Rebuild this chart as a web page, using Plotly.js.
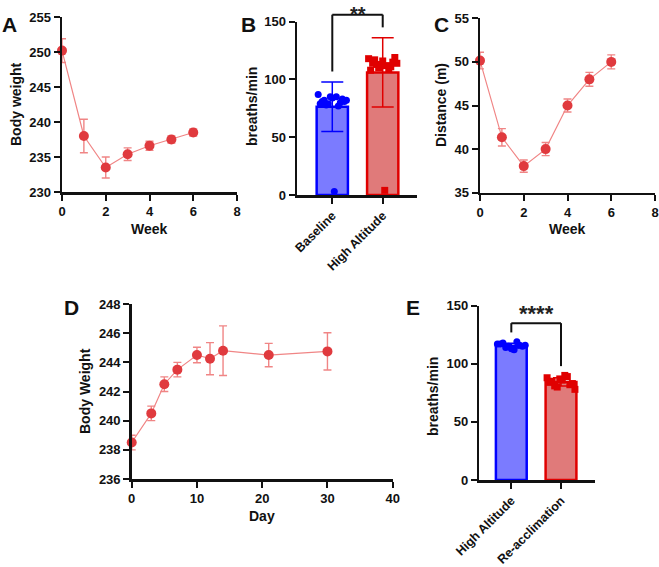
<!DOCTYPE html>
<html>
<head>
<meta charset="utf-8">
<script src="https://cdn.plot.ly/plotly-3.0.1.min.js"></script>
<style>
  html, body { margin: 0; padding: 0; background: #ffffff; }
  #chart { width: 659px; height: 567px; }
</style>
</head>
<body>
<div id="chart"></div>
<script>
// ---- Panel A: body weight by week at altitude ----
const weekA = [0, 1, 2, 3, 4, 5, 6];
const bodyWeightA = [250.2, 238.0, 233.5, 235.4, 236.6, 237.5, 238.5];
const bodyWeightErrA = [1.7, 2.4, 1.5, 0.9, 0.65, 0.5, 0.5];

// ---- Panel B: breathing rate, baseline vs high altitude ----
const groupsB = ['Baseline', 'High Altitude'];
const meanB = [76.4, 106.1];
const sdB = [21.5, 30.0];
const baselineRates = [87, 84, 82, 85, 81, 79, 83, 78, 80, 82, 77, 81, 85, 79, 3];
const highAltitudeRates = [118, 116, 114, 112, 119, 110, 115, 113, 111, 117, 109, 114, 112, 108, 4];
const starsB = '**';

// ---- Panel C: distance by week ----
const weekC = [0, 1, 2, 3, 4, 5, 6];
const distanceC = [50.15, 41.35, 38.05, 40.0, 45.0, 48.0, 50.0];
const distanceErrC = [0.95, 1.0, 0.7, 0.75, 0.75, 0.8, 0.8];

// ---- Panel D: body weight by day after return ----
const dayD = [0, 3, 5, 7, 10, 12, 14, 21, 30];
const bodyWeightD = [238.5, 240.5, 242.5, 243.5, 244.5, 244.25, 244.8, 244.5, 244.75];
const bodyWeightErrD = [0.5, 0.5, 0.5, 0.5, 0.53, 1.1, 1.7, 0.8, 1.28];

// ---- Panel E: breathing rate, high altitude vs re-acclimation ----
const groupsE = ['High Altitude', 'Re-acclimation'];
const meanE = [115.6, 84.4];
const sdE = [2.1, 3.6];
const highAltitudeRatesE = [117, 119, 114, 116, 112, 118, 115, 113, 117, 116, 115];
const reacclimationRatesE = [88, 90, 85, 82, 80, 78, 86, 84, 89, 81, 83, 87];
const starsE = '****';

// ---------------------------------------------------------------
const W = 659, H = 567;
const FONT = '"Liberation Sans", Arial, Helvetica, sans-serif';
const INK = '#111111';
const BLUE = '#0000ff', BLUE_FILL = '#7b7bff';
const RED = '#e00000', RED_FILL = '#e07a7a';
const LINE_RED = '#f08585', DOT_RED = '#e03a3e';

const xDom = (l, r) => [l / W, r / W];
const yDom = (t, b) => [1 - b / H, 1 - t / H];

function axis(extra) {
  return Object.assign({
    showline: true, linewidth: 2.5, linecolor: INK,
    ticks: 'outside', ticklen: 6, tickwidth: 2, tickcolor: INK,
    showgrid: false, zeroline: false, fixedrange: true,
    tickfont: { family: FONT, size: 13, color: INK, weight: 'bold' }
  }, extra);
}

const catFont = { family: FONT, size: 12.5, color: INK, weight: 'bold' };

// axis layouts
const axes = {
  xaxis:  axis({ domain: xDom(62, 237),    range: [0, 8],   tickvals: [0, 2, 4, 6, 8], anchor: 'y' }),
  yaxis:  axis({ domain: yDom(17, 192),    range: [230, 255], tickvals: [230, 235, 240, 245, 250, 255], anchor: 'x' }),
  xaxis2: axis({ domain: xDom(297, 417),   range: [-0.70, 1.68], tickvals: [0, 1], ticktext: groupsB, tickangle: -45, tickfont: catFont, anchor: 'y2' }),
  yaxis2: axis({ domain: yDom(21.7, 195),  range: [0, 150], tickvals: [0, 50, 100, 150], anchor: 'x2' }),
  xaxis3: axis({ domain: xDom(480, 655),   range: [0, 8],   tickvals: [0, 2, 4, 6, 8], anchor: 'y3' }),
  yaxis3: axis({ domain: yDom(18.3, 192.7), range: [35, 55], tickvals: [35, 40, 45, 50, 55], anchor: 'x3' }),
  xaxis4: axis({ domain: xDom(131.7, 392.7), range: [0, 40], tickvals: [0, 10, 20, 30, 40], anchor: 'y4' }),
  yaxis4: axis({ domain: yDom(304, 479),   range: [236, 248], tickvals: [236, 238, 240, 242, 244, 246, 248], anchor: 'x4' }),
  xaxis5: axis({ domain: xDom(479.3, 595), range: [-0.644, 1.684], tickvals: [0, 1], ticktext: groupsE, tickangle: -45, tickfont: catFont, anchor: 'y5' }),
  yaxis5: axis({ domain: yDom(305.7, 480), range: [0, 150], tickvals: [0, 50, 100, 150], anchor: 'x5' })
};

// data -> paper conversion for annotation geometry
function px(axName, v) { const a = axes[axName]; return a.domain[0] + (v - a.range[0]) / (a.range[1] - a.range[0]) * (a.domain[1] - a.domain[0]); }

// spread the individual points across the bar width
function spreadX(center, n) {
  const out = [];
  for (let i = 0; i < n; i++) {
    const k = (i * 7) % n;
    out.push(center + (n > 1 ? k / (n - 1) * 0.56 - 0.28 : 0));
  }
  return out;
}

function lineTrace(x, y, err, xa, ya) {
  return {
    type: 'scatter', mode: 'lines+markers', x: x, y: y, xaxis: xa, yaxis: ya,
    line: { color: LINE_RED, width: 1.2 },
    marker: { color: DOT_RED, size: 10 },
    error_y: { type: 'data', array: err, visible: true, color: LINE_RED, thickness: 1.4, width: 4 },
    cliponaxis: false, hoverinfo: 'skip'
  };
}

function barTrace(pos, mean, sd, fill, edge, xa, ya, capw) {
  return {
    type: 'bar', x: [pos], y: [mean], width: 0.62, xaxis: xa, yaxis: ya,
    marker: { color: fill, line: { color: edge, width: 2.5 } },
    error_y: { type: 'data', array: [sd], visible: true, color: edge, thickness: 1.5, width: capw },
    hoverinfo: 'skip'
  };
}

function dotTrace(pos, vals, color, symbol, xa, ya) {
  return {
    type: 'scatter', mode: 'markers', x: spreadX(pos, vals.length), y: vals, xaxis: xa, yaxis: ya,
    marker: { color: color, size: 7, symbol: symbol },
    cliponaxis: false, hoverinfo: 'skip'
  };
}

const traces = [
  lineTrace(weekA, bodyWeightA, bodyWeightErrA, 'x', 'y'),
  barTrace(0, meanB[0], sdB[0], BLUE_FILL, BLUE, 'x2', 'y2', 11),
  barTrace(1, meanB[1], sdB[1], RED_FILL, RED, 'x2', 'y2', 11),
  dotTrace(0, baselineRates, BLUE, 'circle', 'x2', 'y2'),
  dotTrace(1, highAltitudeRates, RED, 'square', 'x2', 'y2'),
  lineTrace(weekC, distanceC, distanceErrC, 'x3', 'y3'),
  lineTrace(dayD, bodyWeightD, bodyWeightErrD, 'x4', 'y4'),
  barTrace(0, meanE[0], sdE[0], BLUE_FILL, BLUE, 'x5', 'y5', 8),
  barTrace(1, meanE[1], sdE[1], RED_FILL, RED, 'x5', 'y5', 8),
  dotTrace(0, highAltitudeRatesE, BLUE, 'circle', 'x5', 'y5'),
  dotTrace(1, reacclimationRatesE, RED, 'square', 'x5', 'y5')
];

// significance brackets, placed just above the tallest element of each group
function bracket(xa, ya, means, sds, dotsA, dotsB, gap, rise, label, size) {
  const topA = Math.max(means[0] + sds[0], Math.max(...dotsA)) + gap;
  const topB = Math.max(means[1] + sds[1], Math.max(...dotsB)) + gap;
  const top = Math.max(topA, topB) + rise;
  const x0 = px(xa, 0), x1 = px(xa, 1);
  const ln = { color: INK, width: 2 };
  const shapes = [
    { type: 'line', xref: 'paper', yref: 'paper', x0: x0, x1: x0, y0: px(ya, topA), y1: px(ya, top), line: ln },
    { type: 'line', xref: 'paper', yref: 'paper', x0: x0, x1: x1, y0: px(ya, top), y1: px(ya, top), line: ln },
    { type: 'line', xref: 'paper', yref: 'paper', x0: x1, x1: x1, y0: px(ya, topB), y1: px(ya, top), line: ln }
  ];
  // keep the label's box inside the page when the bracket sits near the top edge
  const yTop = px(ya, top) + (size * 1.3 - 4) / H;
  const ann = {
    xref: 'paper', yref: 'paper', x: (x0 + x1) / 2, xanchor: 'center',
    y: Math.min(yTop, 1), yanchor: 'top', yshift: yTop > 1 ? -1 : 0,
    text: label, showarrow: false, font: { family: FONT, size: size, color: '#222', weight: 'bold' }
  };
  return { shapes, ann };
}

const brB = bracket('xaxis2', 'yaxis2', meanB, sdB, baselineRates.slice(0, 14), highAltitudeRates.slice(0, 14), 9, 11, starsB, 20);
const brE = bracket('xaxis5', 'yaxis5', meanE, sdE, highAltitudeRatesE, reacclimationRatesE, 8, 8, starsE, 22);

function label(text, x, y, size, angle) {
  return {
    xref: 'paper', yref: 'paper', x: x / W, y: 1 - y / H, xanchor: 'center', yanchor: 'middle',
    text: text, showarrow: false, textangle: angle || 0,
    font: { family: FONT, size: size, color: INK, weight: 'bold' }
  };
}

const annotations = [
  // panel letters
  label('A', 9, 25, 21), label('B', 248, 24, 21), label('C', 441, 25, 21),
  label('D', 71, 307, 21), label('E', 413, 307, 21),
  // axis titles
  label('Body weight', 16, 104, 14, -90), label('Week', 149.5, 229, 14),
  label('breaths/min', 252, 107, 14, -90),
  label('Distance (m)', 441, 105, 14, -90), label('Week', 567.5, 229, 14),
  label('Body Weight', 85, 391, 14, -90), label('Day', 262, 516, 14),
  label('breaths/min', 432.5, 396.5, 14, -90),
  brB.ann, brE.ann
];

const layout = Object.assign({
  width: W, height: H,
  margin: { l: 0, r: 0, t: 0, b: 0 },
  paper_bgcolor: '#ffffff', plot_bgcolor: 'rgba(0,0,0,0)',
  showlegend: false, barmode: 'overlay',
  font: { family: FONT, color: INK },
  shapes: brB.shapes.concat(brE.shapes),
  annotations: annotations
}, axes);

Plotly.newPlot('chart', traces, layout, { staticPlot: true, displayModeBar: false });
</script>
</body>
</html>
